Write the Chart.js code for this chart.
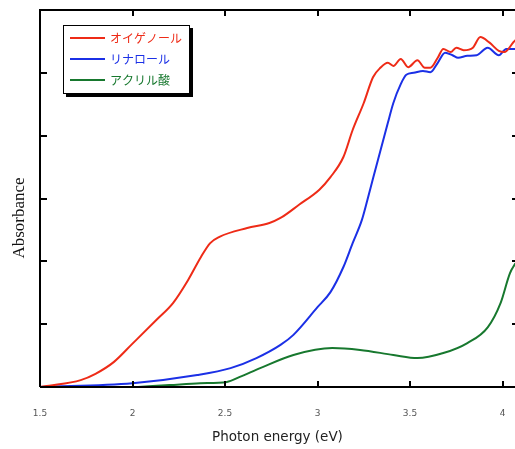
<!DOCTYPE html>
<html>
<head>
<meta charset="utf-8">
<script src="https://cdn.jsdelivr.net/npm/chart.js@4/dist/chart.umd.min.js"></script>
<style>
html,body{margin:0;padding:0;background:#fff;}
#wrap{position:relative;width:515px;height:449px;}
</style>
</head>
<body>
<div id="wrap"><canvas id="c" width="515" height="449"></canvas></div>
<script>
// ---- data ----
const seriesNames = ["オイゲノール", "リナロール", "アクリル酸"];
const xTicks = [1.5, 2, 2.5, 3, 3.5, 4];

const eugenolX = [1.5, 1.55, 1.72, 1.8, 1.9, 2.0, 2.13, 2.22, 2.3, 2.37, 2.42, 2.47, 2.62, 2.74, 2.8, 2.9, 3.01, 3.07, 3.14, 3.19, 3.25, 3.3, 3.34, 3.38, 3.41, 3.45, 3.49, 3.54, 3.58, 3.61, 3.65, 3.68, 3.72, 3.75, 3.79, 3.84, 3.88, 3.93, 3.98, 4.01, 4.06, 4.08];
const eugenolY = [0, 0.02, 0.11, 0.21, 0.40, 0.69, 1.07, 1.34, 1.70, 2.07, 2.29, 2.39, 2.53, 2.61, 2.69, 2.90, 3.14, 3.34, 3.66, 4.09, 4.52, 4.93, 5.08, 5.16, 5.11, 5.22, 5.09, 5.20, 5.08, 5.08, 5.24, 5.38, 5.33, 5.40, 5.36, 5.40, 5.57, 5.48, 5.35, 5.33, 5.49, 5.55];

const linaloolX = [1.5, 2.0, 2.35, 2.53, 2.67, 2.8, 2.87, 3.0, 3.07, 3.14, 3.19, 3.24, 3.27, 3.3, 3.34, 3.38, 3.41, 3.45, 3.48, 3.52, 3.57, 3.61, 3.65, 3.69, 3.73, 3.76, 3.81, 3.86, 3.92, 3.98, 4.02, 4.08];
const linaloolY = [0, 0.06, 0.19, 0.30, 0.46, 0.67, 0.83, 1.27, 1.51, 1.91, 2.29, 2.66, 2.98, 3.32, 3.76, 4.20, 4.52, 4.82, 4.97, 5.0, 5.03, 5.01, 5.16, 5.32, 5.28, 5.24, 5.27, 5.28, 5.40, 5.28, 5.38, 5.38];

const acrylicX = [2.03, 2.2, 2.365, 2.51, 2.58, 2.69, 2.87, 3.08, 3.23, 3.41, 3.54, 3.68, 3.81, 3.92, 3.99, 4.04, 4.07];
const acrylicY = [0, 0.03, 0.06, 0.08, 0.16, 0.30, 0.51, 0.62, 0.59, 0.51, 0.46, 0.54, 0.70, 0.95, 1.34, 1.81, 1.97];

const colors = ["#ee2b17", "#1b30e6", "#17782e"];
const yTitle = "Absorbance";

function pts(xs, ys){ return xs.map((x,i)=>({x:x, y:ys[i]})); }

const frame = {
  id: 'frame',
  afterDraw(chart){
    const ctx = chart.ctx, a = chart.chartArea;
    const xs = chart.scales.x, ys = chart.scales.y;
    ctx.save();
    ctx.strokeStyle = '#000';
    ctx.lineWidth = 2;
    ctx.beginPath();
    ctx.moveTo(a.left, a.bottom); ctx.lineTo(a.left, a.top); ctx.lineTo(chart.width, a.top);
    ctx.moveTo(a.left, a.bottom); ctx.lineTo(chart.width, a.bottom);
    ctx.stroke();
    // inward ticks
    ctx.beginPath();
    xTicks.forEach(v=>{
      if (v === xTicks[0]) return;
      const px = Math.round(xs.getPixelForValue(v));
      ctx.moveTo(px, a.bottom); ctx.lineTo(px, a.bottom-6);
      ctx.moveTo(px, a.top); ctx.lineTo(px, a.top+6);
    });
    for (let v=1; v<6; v++){
      const py = Math.round(ys.getPixelForValue(v));
      ctx.moveTo(a.left, py); ctx.lineTo(a.left+7, py);
      ctx.moveTo(chart.width, py); ctx.lineTo(chart.width-3, py);
    }
    ctx.stroke();
    // y title
    ctx.save();
    ctx.translate(20, 218);
    ctx.rotate(-Math.PI/2);
    ctx.fillStyle = '#111';
    ctx.font = '17px "Liberation Serif"';
    ctx.textAlign = 'center';
    ctx.textBaseline = 'middle';
    ctx.fillText(yTitle, 0, 0);
    ctx.restore();
    // legend
    const lx = 63, ly = 25, lw = 127, lh = 69;
    ctx.fillStyle = '#000';
    ctx.fillRect(lx+3, ly+3, lw, lh);
    ctx.fillStyle = '#fff';
    ctx.fillRect(lx, ly, lw, lh);
    ctx.lineWidth = 1;
    ctx.strokeStyle = '#000';
    ctx.strokeRect(lx+0.5, ly+0.5, lw-1, lh-1);
    ctx.font = '12px "Noto Sans CJK JP"';
    ctx.textBaseline = 'middle';
    chart.data.datasets.forEach((ds, i)=>{
      const yy = ly + 13 + i*21;
      ctx.strokeStyle = ds.borderColor;
      ctx.lineWidth = 2;
      ctx.beginPath(); ctx.moveTo(lx+7, yy); ctx.lineTo(lx+42, yy); ctx.stroke();
      ctx.fillStyle = ds.borderColor;
      ctx.fillText(ds.label, lx+47, yy);
    });
    ctx.restore();
  }
};

new Chart(document.getElementById('c'), {
  type: 'line',
  data: {
    datasets: [
      {label: seriesNames[0], data: pts(eugenolX, eugenolY), borderColor: colors[0]},
      {label: seriesNames[1], data: pts(linaloolX, linaloolY), borderColor: colors[1]},
      {label: seriesNames[2], data: pts(acrylicX, acrylicY), borderColor: colors[2]}
    ].map(d=>Object.assign(d, {borderWidth: 2, pointRadius: 0, fill: false, cubicInterpolationMode: 'monotone'}))
  },
  options: {
    responsive: false,
    animation: false,
    devicePixelRatio: 1,
    layout: {padding: {top: 10, right: 0, left: 0, bottom: 0}},
    plugins: {legend: {display: false}, tooltip: {enabled: false}},
    scales: {
      x: {
        type: 'linear', min: 1.5, max: 1.5 + 475/185,
        afterBuildTicks(s){ s.ticks = xTicks.map(v=>({value:v})); },
        afterFit(s){ s.height = 62; s.paddingLeft = 0; s.paddingRight = 0; },
        grid: {display: false, drawTicks: false},
        border: {display: false},
        ticks: {padding: 21, color: '#555', font: {family: 'DejaVu Sans', size: 9}, maxRotation: 0,
                callback: v => String(v)},
        title: {display: true, text: 'Photon energy (eV)', color: '#222',
                font: {family: 'DejaVu Sans', size: 13.5}, padding: {top: 0, bottom: 3}}
      },
      y: {
        min: 0, max: 6,
        afterFit(s){ s.width = 40; },
        grid: {display: false, drawTicks: false},
        border: {display: false},
        ticks: {display: false, stepSize: 1}
      }
    }
  },
  plugins: [frame]
});
</script>
</body>
</html>
